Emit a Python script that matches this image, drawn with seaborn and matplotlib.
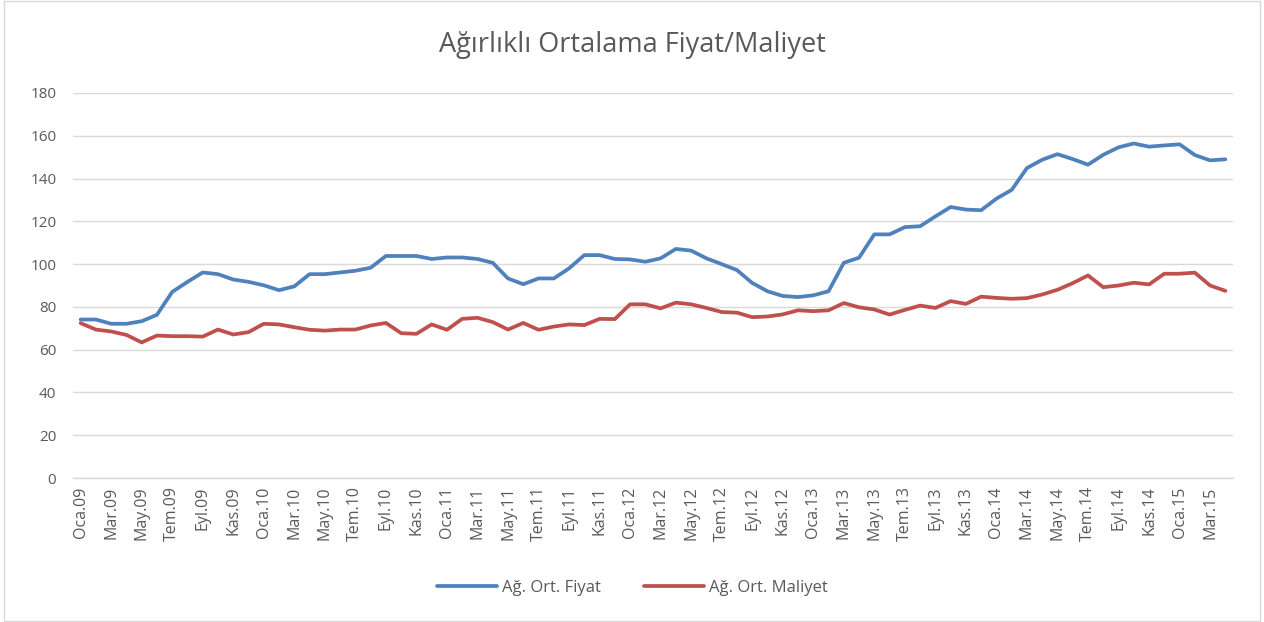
import pandas as pd
import seaborn as sns
import matplotlib.pyplot as plt
from matplotlib import patches

# Monthly series, Oca.09 .. Nis.15
MONTHS = ["Oca", "Şub", "Mar", "Nis", "May", "Haz",
          "Tem", "Ağu", "Eyl", "Eki", "Kas", "Ara"]
YEARS = ["09", "10", "11", "12", "13", "14", "15"]
N_POINTS = 76

fiyat = [
    74.1, 74.1, 72.1, 72.1, 73.3, 76.3, 87.0, 91.7, 96.1, 95.3, 92.8, 91.7,
    90.1, 87.8, 89.6, 95.3, 95.3, 96.1, 96.9, 98.3, 103.8, 103.8, 103.8, 102.4,
    103.1, 103.1, 102.4, 100.6, 93.3, 90.6, 93.3, 93.3, 98.0, 104.2, 104.2, 102.4,
    102.2, 101.1, 102.7, 107.1, 106.3, 102.7, 100.0, 97.2, 91.2, 87.3, 85.1, 84.6,
    85.4, 87.3, 100.6, 103.0, 113.9, 113.9, 117.3, 117.7, 122.3, 126.7, 125.5, 125.2,
    130.6, 134.7, 144.9, 148.8, 151.4, 149.1, 146.5, 151.1, 154.6, 156.4, 154.9, 155.5,
    156.0, 151.0, 148.5, 149.0,
]
maliyet = [
    72.4, 69.4, 68.5, 66.9, 63.4, 66.6, 66.3, 66.3, 66.1, 69.4, 67.1, 68.2,
    72.1, 71.8, 70.5, 69.3, 68.9, 69.4, 69.4, 71.3, 72.5, 67.7, 67.4, 71.8,
    69.3, 74.4, 74.9, 72.9, 69.4, 72.5, 69.3, 70.8, 71.8, 71.5, 74.4, 74.3,
    81.2, 81.2, 79.3, 82.0, 81.2, 79.5, 77.6, 77.3, 75.2, 75.5, 76.5, 78.4,
    78.0, 78.4, 81.8, 79.8, 78.8, 76.4, 78.6, 80.6, 79.5, 82.7, 81.4, 84.8,
    84.2, 83.8, 84.1, 85.8, 88.0, 91.1, 94.7, 89.2, 90.0, 91.3, 90.5, 95.5,
    95.5, 96.0, 90.0, 87.5,
]
series_names = ["Ağ. Ort. Fiyat", "Ağ. Ort. Maliyet"]
y_ticks = [0, 20, 40, 60, 80, 100, 120, 140, 160, 180]

labels = [m + "." + y for y in YEARS for m in MONTHS][:N_POINTS]

df = pd.DataFrame({
    "idx": list(range(N_POINTS)) * 2,
    "value": fiyat + maliyet,
    "series": [series_names[0]] * N_POINTS + [series_names[1]] * N_POINTS,
})

sns.set_theme(style="white")
plt.rcParams["font.family"] = ["Open Sans", "DejaVu Sans"]
TEXT = "#595959"
GRID = "#d9d9d9"
COLORS = ["#4f81bd", "#c0504d"]

fig = plt.figure(figsize=(12.64, 6.22), dpi=100)
ax = fig.add_axes([73 / 1264, 1 - 478 / 622, 1160 / 1264, 385 / 622])

sns.lineplot(
    data=df, x="idx", y="value", hue="series",
    palette=COLORS, linewidth=2.7, ax=ax, legend=False,
)

ax.set_xlim(-0.5, N_POINTS - 0.5)
ax.set_ylim(0, 180)
ax.set_yticks(y_ticks)
ax.set_yticklabels([str(v) for v in y_ticks], fontsize=11, color=TEXT)
ax.yaxis.grid(True, color=GRID, linewidth=1)
ax.set_axisbelow(True)

ax.set_xticks(range(0, N_POINTS, 2))
ax.set_xticklabels(labels[::2], rotation=90, fontsize=11.5, color=TEXT)
ax.set_xticks([i - 0.5 for i in range(0, N_POINTS + 1, 2)], minor=True)
ax.tick_params(axis="x", which="major", length=0, pad=6)
ax.tick_params(axis="x", which="minor", length=5, color=GRID, width=1)
ax.tick_params(axis="y", length=0, pad=12)

for s in ["top", "right", "left"]:
    ax.spines[s].set_visible(False)
ax.spines["bottom"].set_color(GRID)
ax.spines["bottom"].set_linewidth(1)
ax.set_xlabel("")
ax.set_ylabel("")

fig.text(0.5, 1 - 45 / 622, "Ağırlıklı Ortalama Fiyat/Maliyet",
         ha="center", va="center", fontsize=19.5, color=TEXT)

handles = [plt.Line2D([0], [0], color=c, lw=2.7) for c in COLORS]
fig.legend(handles, series_names, loc="center", bbox_to_anchor=(0.5, 1 - 588 / 622),
           ncol=2, frameon=False, fontsize=12, labelcolor=TEXT,
           handlelength=3.6, columnspacing=2.6, handletextpad=0.3)

# Chart area frame
fig.patches.append(patches.Rectangle((4 / 1264, 1 / 622), 1256 / 1264, 620 / 622,
                                     transform=fig.transFigure, fill=False,
                                     edgecolor=GRID, linewidth=1))

fig.savefig("out.png", dpi=100)
